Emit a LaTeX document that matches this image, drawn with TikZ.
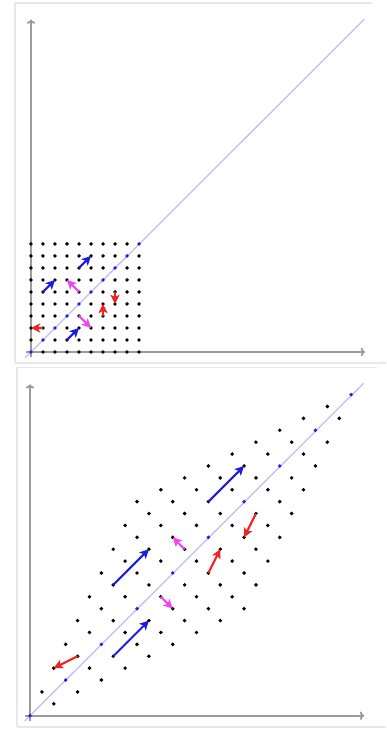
\documentclass[tikz,border=0pt]{standalone}
\usepackage{xcolor}
\usepackage{tikz}
\usetikzlibrary{arrows.meta}
\definecolor{AzulVector}{RGB}{30,30,225}
\definecolor{RojoVector}{RGB}{240,35,35}
\definecolor{MagentaVector}{RGB}{240,70,240}
\definecolor{AzulDiagonal}{RGB}{190,190,250}
\definecolor{GrisEje}{RGB}{155,155,155}
\definecolor{GrisMarco}{RGB}{232,232,232}
\begin{document}
\begin{tikzpicture}[x=0.3cm,y=0.3cm,>={Stealth[length=6.5pt,width=6.5pt,inset=1.5pt]},
  eje/.style={GrisEje,line width=1.3pt,-{To[length=3pt,width=6pt]}},
  vector/.style={->,line width=1.5pt},
  marco/.style={GrisMarco,line width=0.8pt}]
  \useasboundingbox (0,0) rectangle (32.17,60.83);
  % marcos de los dos paneles
  \draw[marco] (1.25,30.58)--(1.25,60.58)--(31.0,60.58);
  \draw[marco] (1.25,30.58)--(32.17,30.58);
  \draw[marco] (1.42,0.25)--(1.42,30.17)--(31.42,30.17);
  \draw[marco] (1.42,0.25)--(32.17,0.25);
  % panel superior: la red original
  \begin{scope}[shift={(2.583,31.5)}]
    \draw[eje] (-0.42,0)--(27.83,0);
    \draw[eje] (0,-0.42)--(0,27.7);
    \draw[AzulDiagonal,line width=0.9pt] (-0.5,-0.5)--(27.8,27.75);
    \foreach \i in {0,...,9}
      \foreach \j in {0,...,9}{
        \ifnum\i=\j
          \fill[AzulVector] (\i,\j) circle (1.4pt);
        \else
          \fill (\i,\j) circle (1.4pt);
        \fi
      }
    \draw[vector,AzulVector] (3,1)--(4,2);
    \draw[vector,AzulVector] (1,5)--(2,6);
    \draw[vector,AzulVector] (4,7)--(5,8);
    \draw[vector,MagentaVector] (4,5)--(3,6);
    \draw[vector,MagentaVector] (4,3)--(5,2);
    \draw[vector,RojoVector] (1,2)--(0,2);
    \draw[vector,RojoVector] (6,3)--(6,4);
    \draw[vector,RojoVector] (7,5)--(7,4);
  \end{scope}
  % panel inferior: la red transformada
  \begin{scope}[shift={(2.5,1.19)},scale=0.991]
    \draw[eje] (-0.42,0)--(28.09,0);
    \draw[eje] (0,-0.42)--(0,27.87);
    \draw[AzulDiagonal,line width=0.9pt] (-0.45,-0.45)--(28.05,27.95);
    \foreach \i in {0,...,9}
      \foreach \j in {0,...,9}{
        \ifnum\i=\j
          \fill[AzulVector] ({2*\i+\j},{\i+2*\j}) circle (1.4pt);
        \else
          \fill ({2*\i+\j},{\i+2*\j}) circle (1.4pt);
        \fi
      }
    \draw[vector,AzulVector] (7,5)--(10,8);
    \draw[vector,AzulVector] (7,11)--(10,14);
    \draw[vector,AzulVector] (15,18)--(18,21);
    \draw[vector,MagentaVector] (13,14)--(12,15);
    \draw[vector,MagentaVector] (11,10)--(12,9);
    \draw[vector,RojoVector] (4,5)--(2,4);
    \draw[vector,RojoVector] (15,12)--(16,14);
    \draw[vector,RojoVector] (19,17)--(18,15);
  \end{scope}
\end{tikzpicture}
\end{document}
